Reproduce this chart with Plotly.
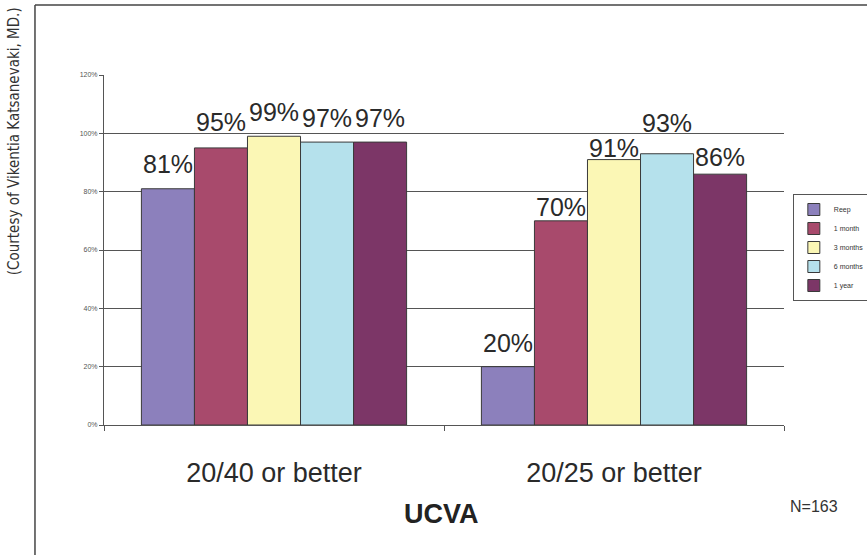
import plotly.graph_objects as go

categories = ["20/40 or better", "20/25 or better"]
series_names = ["Reep", "1 month", "3 months", "6 months", "1 year"]
values = {
    "Reep": [81, 20],
    "1 month": [95, 70],
    "3 months": [99, 91],
    "6 months": [97, 93],
    "1 year": [97, 86],
}
colors = ["#8C80BC", "#A84A6C", "#FBF7B5", "#B5E1EC", "#7C3667"]
y_ticks = [0, 20, 40, 60, 80, 100, 120]
y_tick_text = [f"{v}%" for v in y_ticks]

# style: vertical nudge (px) of each value label above its bar
label_shift = {
    "Reep": [25, 24],
    "1 month": [26, 14],
    "3 months": [24, 12],
    "6 months": [24, 31],
    "1 year": [24, 17],
}

BARGAP = 0.22
fig = go.Figure()
for name, col in zip(series_names, colors):
    fig.add_trace(go.Bar(
        x=categories, y=values[name], name=name,
        marker=dict(color=col, line=dict(color="#3a3a3a", width=1)),
    ))

bar_w = (1 - BARGAP) / len(series_names)
for i, name in enumerate(series_names):
    for c, cat in enumerate(categories):
        v = values[name][c]
        fig.add_annotation(
            x=c + (i - (len(series_names) - 1) / 2) * bar_w, y=v,
            xref="x", yref="y", text=f"{v}%", showarrow=False,
            yanchor="middle", yshift=label_shift[name][c],
            font=dict(family="Arial, Liberation Sans", size=25, color="#2a2a2a"),
        )

fig.update_layout(
    width=867, height=555,
    paper_bgcolor="white", plot_bgcolor="white",
    barmode="group", bargap=BARGAP, bargroupgap=0,
    margin=dict(l=104, r=83, t=75, b=130, autoexpand=False),
    font=dict(family="Arial, Liberation Sans"),
    legend=dict(x=1.013, y=0.66, xanchor="left", yanchor="top",
                bordercolor="#555", borderwidth=1,
                font=dict(size=7, color="#333"),
                itemwidth=30, tracegroupgap=0),
    showlegend=True,
)
fig.update_yaxes(range=[0, 120], tickvals=y_ticks, ticktext=y_tick_text,
                 showgrid=True, gridcolor="#555", gridwidth=1,
                 showline=True, linecolor="#555", ticks="outside", ticklen=4,
                 tickcolor="#555", tickfont=dict(size=7, color="#555"),
                 zeroline=False)
fig.update_xaxes(showline=True, linecolor="#555", ticks="outside", ticklen=5,
                 tickcolor="#555", tickson="boundaries", ticklabelstandoff=24,
                 tickfont=dict(size=27, color="#2a2a2a"))

fig.add_annotation(text="<b>UCVA</b>", xref="paper", yref="paper",
                   x=0.497, y=-0.254, xanchor="center", yanchor="middle", showarrow=False,
                   font=dict(size=27, color="#222"))
fig.add_annotation(text="N=163", xref="paper", yref="paper",
                   x=1.044, y=-0.234, xanchor="center", yanchor="middle", showarrow=False,
                   font=dict(size=16, color="#333"))
fig.add_annotation(text="(Courtesy of Vikentia Katsanevaki, MD.)", xref="paper", yref="paper",
                   x=-0.132, y=1.2, xanchor="center", yanchor="top",
                   textangle=-90, showarrow=False,
                   font=dict(size=15, color="#333", family="DejaVu Sans Condensed, Liberation Sans"))
fig.add_shape(type="line", xref="paper", yref="paper",
              x0=-0.1015, x1=-0.1015, y0=-0.38, y1=1.2, line=dict(color="#444", width=1.5))
fig.add_shape(type="line", xref="paper", yref="paper",
              x0=-0.1015, x1=1.13, y0=1.2, y1=1.2, line=dict(color="#444", width=1.5))

fig.write_html("out.html", post_script="document.body.style.margin='0';",
               config={"displayModeBar": False})
